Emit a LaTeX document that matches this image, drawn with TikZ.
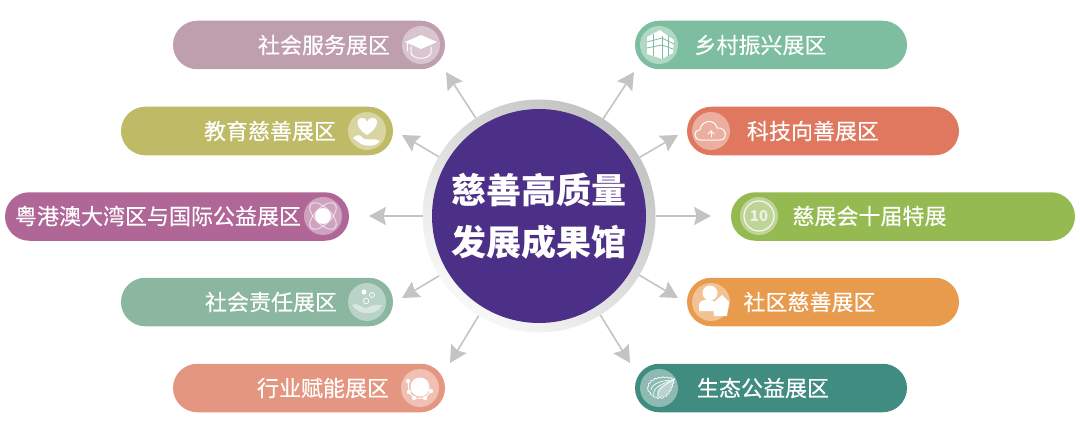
\documentclass[tikz,border=0pt]{standalone}
\usepackage{fontspec}
\setmainfont{Noto Sans CJK SC}
\newfontfamily\labfont[FakeBold=0.3]{Noto Sans CJK SC}
\usepackage{xcolor}
\usetikzlibrary{
  arrows.meta,
  shapes.misc,
  decorations.pathmorphing
}
\definecolor{hubpurple}{RGB}{76, 47, 135}
\definecolor{ringdark}{RGB}{194, 194, 194}
\definecolor{ringlight}{RGB}{248, 248, 248}
\definecolor{arrowgray}{RGB}{196, 196, 196}
\definecolor{fillService}{RGB}{191, 159, 173}
\definecolor{fillEducation}{RGB}{191, 186, 101}
\definecolor{fillBay}{RGB}{176, 103, 151}
\definecolor{fillDuty}{RGB}{139, 182, 160}
\definecolor{fillIndustry}{RGB}{229, 150, 129}
\definecolor{fillRural}{RGB}{124, 190, 159}
\definecolor{fillTech}{RGB}{224, 120, 96}
\definecolor{fillTenth}{RGB}{149, 186, 82}
\definecolor{fillCommunity}{RGB}{232, 154, 77}
\definecolor{fillEcology}{RGB}{65, 140, 128}
\tikzset{
  % Center circle
  hubring/.style  = {circle, minimum size=233pt, inner sep=0pt, outer sep=0pt,
                     top color=ringdark, bottom color=ringlight, shading angle=-40},
  hubcore/.style  = {circle, minimum size=214pt, inner sep=0pt, fill=hubpurple, text=white,
                     align=center, font=\fontsize{35}{52}\selectfont\bfseries},
  % Pills
  pill/.style     = {rounded rectangle, minimum height=48.5pt, inner sep=0pt, outer sep=0pt},
  pillshort/.style= {pill, minimum width=272pt},
  pilllong/.style = {pill, minimum width=344pt},
  lab/.style      = {text=white, inner sep=0pt, font=\fontsize{22}{26}\selectfont\labfont},
  % Icons
  icondisc/.style = {circle, minimum size=38pt, inner sep=0pt, fill=white, fill opacity=0.4},
  glyph/.style    = {draw=white, line width=1pt, line join=round, line cap=round},
  gridline/.style = {line width=0.8pt},
  % Arrows
  conn/.style     = {-{Stealth[length=17pt, width=18pt, inset=2.5pt]}, line width=1.6pt, arrowgray},
}
\begin{document}
\begin{tikzpicture}[x=1pt, y=-1pt]
  \useasboundingbox (0,0) rectangle (1080,436);
  % Center circle
  \node[hubring] (hub) at (539,216) {};
  \node[hubcore] (core) at (539,216) {慈善高质量\\发展成果馆};
  % Left pills
  \node[pillshort, fill=fillService]   (pillService)   at (309,45)    {};
  \node[pillshort, fill=fillEducation] (pillEducation) at (257,131)   {};
  \node[pilllong,  fill=fillBay]       (pillBay)       at (177,216.5) {};
  \node[pillshort, fill=fillDuty]      (pillDuty)      at (257,302)   {};
  \node[pillshort, fill=fillIndustry]  (pillIndustry)  at (309,388)   {};
  % Right pills
  \node[pillshort, fill=fillRural]     (pillRural)     at (771,45)    {};
  \node[pillshort, fill=fillTech]      (pillTech)      at (823,131)   {};
  \node[pilllong,  fill=fillTenth]     (pillTenth)     at (903,216.5) {};
  \node[pillshort, fill=fillCommunity] (pillCommunity) at (823,302)   {};
  \node[pillshort, fill=fillEcology]   (pillEcology)   at (771,388)   {};
  % Labels
  \node[lab] (labService)   at (324,45)  {社会服务展区};
  \node[lab] (labEducation) at (270,131) {教育慈善展区};
  \node[lab] (labBay)       at (158,216) {粤港澳大湾区与国际公益展区};
  \node[lab] (labDuty)      at (271,302) {社会责任展区};
  \node[lab] (labIndustry)  at (323,388) {行业赋能展区};
  \node[lab] (labRural)     at (760.5,45)  {乡村振兴展区};
  \node[lab] (labTech)      at (813,131)   {科技向善展区};
  \node[lab] (labTenth)     at (869.5,216) {慈展会十届特展};
  \node[lab] (labCommunity) at (809.5,302) {社区慈善展区};
  \node[lab] (labEcology)   at (763,388)   {生态公益展区};
  % Arrow ends
  \coordinate (tipService)   at (446,72);
  \coordinate (tipEducation) at (402,135);
  \coordinate (tipBay)       at (369,216);
  \coordinate (tipDuty)      at (402,298);
  \coordinate (tipIndustry)  at (450,363);
  \coordinate (tipRural)     at (634,72);
  \coordinate (tipTech)      at (678,135);
  \coordinate (tipTenth)     at (711,216);
  \coordinate (tipCommunity) at (678,298);
  \coordinate (tipEcology)   at (630,363);
  \draw[conn] (hub) -- (tipService);
  \draw[conn] (hub) -- (tipEducation);
  \draw[conn] (hub) -- (tipBay);
  \draw[conn] (hub) -- (tipDuty);
  \draw[conn] (hub) -- (tipIndustry);
  \draw[conn] (hub) -- (tipRural);
  \draw[conn] (hub) -- (tipTech);
  \draw[conn] (hub) -- (tipTenth);
  \draw[conn] (hub) -- (tipCommunity);
  \draw[conn] (hub) -- (tipEcology);
  % Icon discs
  \node[icondisc] (iconService)   at (421,45)  {};
  \node[icondisc] (iconEducation) at (367,131) {};
  \node[icondisc] (iconBay)       at (323,216) {};
  \node[icondisc] (iconDuty)      at (367,302) {};
  \node[icondisc] (iconIndustry)  at (420,388) {};
  \node[icondisc] (iconRural)     at (659,45)  {};
  \node[icondisc] (iconTech)      at (711,131) {};
  \node[icondisc] (iconTenth)     at (759,216) {};
  \node[icondisc] (iconCommunity) at (711,302) {};
  \node[icondisc] (iconEcology)   at (659,388) {};
  % Graduate cap
  \begin{scope}[shift={(iconService.center)}]
    \fill[white] (-16,-3) -- (0,-10) -- (16,-3) -- (0,4) -- cycle;
    \draw[glyph] (-10,2) -- (-10,8) .. controls (-8,15) and (8,15) .. (10,8) -- (10,2);
    \draw[glyph] (-14,-2) -- (-14,6);
  \end{scope}
  % Heart and hand
  \begin{scope}[shift={(iconEducation.center)}]
    \fill[white] (0,4) .. controls (-14,-5) and (-10,-14) .. (-4,-13)
      .. controls (-2,-13) and (0,-11) .. (0,-9)
      .. controls (0,-11) and (3,-13) .. (5,-13)
      .. controls (11,-14) and (14,-5) .. (0,4) -- cycle;
    \fill[white] (-14,7) .. controls (-10,3) and (-7,3) .. (-3,8)
      .. controls (3,9) and (8,7) .. (13,10)
      .. controls (10,15) and (1,16) .. (-6,13) -- cycle;
  \end{scope}
  % Ring with crossed loops
  \begin{scope}[shift={(iconBay.center)}]
    \draw[glyph, opacity=0.6, rotate=45] (0,0) ellipse (17 and 8);
    \draw[glyph, opacity=0.6, rotate=-45] (0,0) ellipse (17 and 8);
    \fill[white] (0,0) circle (8);
  \end{scope}
  % Bubbles and waves
  \begin{scope}[shift={(iconDuty.center)}]
    \fill[white] (-3,-10) circle (2.5);
    \draw[glyph, line width=0.7pt] (5,-7) circle (2.5);
    \draw[glyph, line width=0.7pt] (-1,-1) circle (2.8);
    \fill[white, opacity=0.45] (-15,3) .. controls (-8,-1) and (-5,9) .. (2,5)
      .. controls (7,2) and (11,3) .. (15,3) .. controls (11,14) and (-9,14) .. (-15,3) -- cycle;
  \end{scope}
  % Dots around a disc
  \begin{scope}[shift={(iconIndustry.center)}]
    \fill[white] (0,-1) circle (9.5);
    \draw[glyph] (-12,-7) -- (-11,4) -- (-6,10) -- (5,10) -- (11,3);
    \fill[white] (-12,-7) circle (2.2);
    \fill[white] (-11,4) circle (2.2);
    \fill[white] (-6,10) circle (2.2);
    \fill[white] (5,10) circle (2.2);
    \fill[white] (11,3) circle (2.2);
  \end{scope}
  % Building
  \begin{scope}[shift={(iconRural.center)}]
    \fill[white] (-12,-8) -- (1,-15) -- (9,-9) -- (15,-5) -- (14,8) -- (3,14) -- (-12,9) -- cycle;
    \draw[fillRural, gridline] (-12,-3) -- (3,-7) -- (15,-1);
    \draw[fillRural, gridline] (-12,3) -- (3,0) -- (14,4);
    \draw[fillRural, gridline] (-6,-11) -- (-6,11);
    \draw[fillRural, gridline] (3,-9) -- (3,14);
    \draw[fillRural, gridline] (9,-9) -- (9,11);
  \end{scope}
  % Cloud
  \begin{scope}[shift={(iconTech.center)}]
    \draw[glyph] (-10,9) .. controls (-18,9) and (-18,-1) .. (-11,-1)
      .. controls (-10,-11) and (4,-13) .. (6,-3)
      .. controls (16,-4) and (17,9) .. (9,9) -- cycle;
    \draw[glyph] (0,6) -- (0,0);
    \draw[glyph] (-3,3) -- (0,0) -- (3,3);
  \end{scope}
  % Number ring
  \begin{scope}[shift={(iconTenth.center)}]
    \draw[glyph, line width=1.2pt, opacity=0.85] (0,0) circle (15);
    \node[text=white, opacity=0.7, inner sep=0pt, font=\fontsize{15}{15}\selectfont\bfseries] (numTenth) at (0,0) {10};
  \end{scope}
  % Person and house
  \begin{scope}[shift={(iconCommunity.center)}]
    \fill[white] (-1,-9) circle (7.5);
    \fill[white] (-12,9) -- (-12,2) .. controls (-10,-3) and (-4,-3) .. (3,-1) -- (3,9) -- cycle;
    \fill[white] (2,1) -- (11,-7) -- (18,0) -- (16,14) -- (3,14) -- cycle;
  \end{scope}
  % Leaf
  \begin{scope}[shift={(iconEcology.center)}]
    \draw[glyph, line width=0.7pt, decorate, decoration={snake, amplitude=0.6pt, segment length=4pt}]
      (-11,1) .. controls (-11,-9) and (4,-12) .. (15,-8) .. controls (13,4) and (8,13) .. (-1,12)
      .. controls (-7,11) and (-11,7) .. (-11,1);
    \fill[white, opacity=0.4] (-1,9) .. controls (-5,2) and (3,-5) .. (15,-8) .. controls (13,2) and (8,10) .. (-1,9) -- cycle;
    \draw[glyph, line width=0.7pt] (-8,2) .. controls (-7,-5) and (4,-8) .. (15,-8);
    \draw[glyph, line width=0.7pt] (-5,7) .. controls (-7,1) and (2,-5) .. (15,-8);
    \draw[glyph, line width=0.7pt] (-1,9) .. controls (-3,3) and (4,-3) .. (15,-8);
  \end{scope}
\end{tikzpicture}
\end{document}
